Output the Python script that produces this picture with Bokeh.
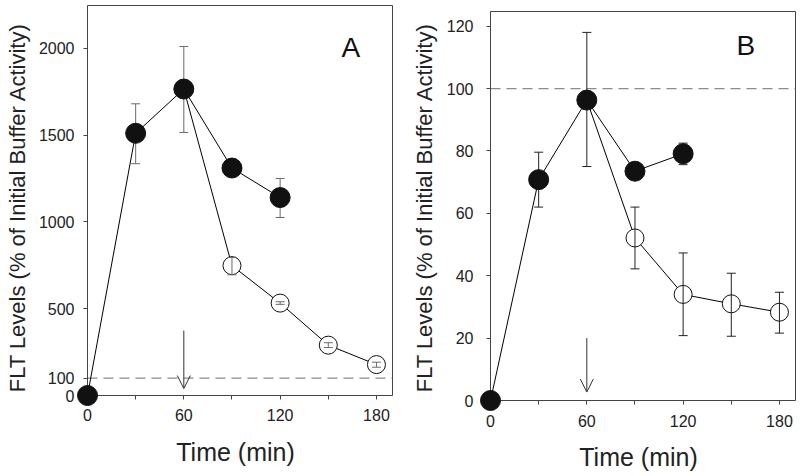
from bokeh.plotting import figure
from bokeh.models import Range1d, FixedTicker, Arrow, OpenHead, Label, LinearAxis
from bokeh.layouts import row
from bokeh.embed import file_html
from bokeh.resources import INLINE

FONT = "Liberation Sans"

# ---------------- data ----------------
time_ticks = [0, 60, 120, 180]
time_minor = [30, 90, 150]

fill_time = [0, 30, 60, 90, 120]
open_time = [90, 120, 150, 180]

# Panel A
a_fill = [0, 1510, 1765, 1310, 1140]
a_fill_lo = [0, 1335, 1515, 1265, 1025]
a_fill_hi = [0, 1680, 2010, 1355, 1250]
a_open = [748, 532, 290, 178]
a_open_lo = [695, 525, 276, 163]
a_open_hi = [795, 540, 304, 192]
a_yticks = [0, 100, 500, 1000, 1500, 2000]
a_baseline = 100
a_arrow = (60, 374, 40)
a_xmax, a_ymax = 190, 2246

# Panel B
b_fill = [0, 70.8, 96.3, 73.5, 79.1]
b_fill_lo = [0, 62.0, 75.0, 72.5, 75.6]
b_fill_hi = [0, 79.6, 118.0, 74.5, 82.5]
b_open = [52.1, 34.0, 31.0, 28.3]
b_open_lo = [42.2, 20.8, 20.6, 21.6]
b_open_hi = [62.0, 47.3, 40.8, 34.7]
b_yticks = [0, 20, 40, 60, 80, 100, 120]
b_baseline = 100
b_arrow = (60, 20, 2.7)
b_xmax, b_ymax = 190, 124.7

xlabel = "Time (min)"
ylabel = "FLT Levels (% of Initial Buffer Activity)"

AXIS_COLOR = "#444444"
TICK = 4


def line_axis(loc, bounds, ticks, minor):
    ax = LinearAxis(fixed_location=loc, bounds=bounds,
                    ticker=FixedTicker(ticks=ticks, minor_ticks=minor),
                    major_label_overrides={t: "" for t in ticks})
    ax.axis_line_color = AXIS_COLOR
    ax.major_tick_line_color = AXIS_COLOR
    ax.minor_tick_line_color = AXIS_COLOR
    ax.major_tick_in = 0
    ax.major_tick_out = TICK if ticks else 0
    ax.minor_tick_in = 0
    ax.minor_tick_out = TICK if minor else 0
    ax.major_label_text_font_size = "1px"
    ax.major_label_text_color = None
    return ax


def label_axis(ticks, title, title_size, standoff, title_standoff):
    ax = LinearAxis(ticker=FixedTicker(ticks=ticks, minor_ticks=[]), axis_label=title)
    ax.axis_line_color = None
    ax.major_tick_line_color = None
    ax.minor_tick_line_color = None
    ax.major_tick_in = 0
    ax.major_tick_out = 0
    ax.minor_tick_in = 0
    ax.minor_tick_out = 0
    ax.major_label_text_font = FONT
    ax.major_label_text_font_size = "16px"
    ax.major_label_text_color = "#222222"
    ax.axis_label_text_font = FONT
    ax.axis_label_text_font_style = "normal"
    ax.axis_label_text_color = "#222222"
    ax.axis_label_text_font_size = title_size
    ax.major_label_standoff = standoff
    ax.axis_label_standoff = title_standoff
    return ax


def panel(fill, flo, fhi, opn, olo, ohi, yticks, xmax, ymax, baseline, arrow,
          letter, letter_pos, frame, pads, tick_standoff, label_standoff, err_color):
    # frame = (left, right, top, bottom) of the visible axes box in canvas px
    # pads  = extra frame px kept (left, right, top, bottom) of that box
    W, H = 400, 476
    fl, fr, ft, fb = frame
    pl, pr, pt, pb_ = pads
    xs = (fr - fl) / xmax
    ys = (fb - ft) / ymax
    p = figure(width=W, height=H, output_backend="svg", toolbar_location=None,
               x_range=Range1d(-pl / xs, xmax + pr / xs),
               y_range=Range1d(-pb_ / ys, ymax + pt / ys),
               min_border_left=fl - pl, min_border_right=W - fr - pr,
               min_border_top=ft - pt, min_border_bottom=H - fb - pb_,
               x_axis_location=None, y_axis_location=None)
    p.grid.visible = False
    p.outline_line_color = None
    p.background_fill_color = "white"
    p.border_fill_color = "white"

    # box lines and ticks, placed exactly on the data origin / range ends
    p.add_layout(line_axis(0, (0, xmax), time_ticks, time_minor), "below")
    p.add_layout(line_axis(0, (0, ymax), yticks, []), "left")
    p.add_layout(line_axis(ymax, (0, xmax), [], []), "below")
    p.add_layout(line_axis(xmax, (0, ymax), [], []), "left")

    # tick labels and titles in the side panels
    p.add_layout(label_axis(time_ticks, xlabel, "25px",
                            TICK + tick_standoff[0] - pb_, label_standoff[0]), "below")
    p.add_layout(label_axis(yticks, ylabel, "22px",
                            TICK + tick_standoff[1] - pl, label_standoff[1]), "left")

    # dashed reference level
    p.segment(x0=[0], y0=[baseline], x1=[xmax], y1=[baseline], line_color="#8c8c8c",
              line_dash="10 6", line_width=1.2)

    # connecting lines
    p.line(fill_time, fill, line_color="black", line_width=1)
    p.line([fill_time[2]] + open_time, [fill[2]] + opn, line_color="black", line_width=1)

    # open markers
    p.scatter(open_time, opn, size=18, marker="circle", fill_color="white",
              line_color="#111111", line_width=1)
    # error bars
    ex = fill_time[1:] + open_time
    elo = flo[1:] + olo
    ehi = fhi[1:] + ohi
    p.segment(ex, elo, ex, ehi, line_color=err_color, line_width=1)
    p.scatter(ex, elo, marker="dash", size=9, line_color=err_color, line_width=1)
    p.scatter(ex, ehi, marker="dash", size=9, line_color=err_color, line_width=1)
    # filled markers (drawn above the axis lines)
    p.scatter(fill_time, fill, size=20, marker="circle", fill_color="#111111",
              line_color="#111111", level="overlay")

    p.add_layout(Arrow(end=OpenHead(size=13, line_width=1, line_color="#333333"),
                       x_start=arrow[0], y_start=arrow[1], x_end=arrow[0], y_end=arrow[2],
                       line_color="#333333", line_width=1))
    p.add_layout(Label(x=letter_pos[0], y=letter_pos[1], text=letter,
                       text_font=FONT, text_font_size="28px", text_color="#111111",
                       text_align="center", text_baseline="middle"))
    return p


pa = panel(a_fill, a_fill_lo, a_fill_hi, a_open, a_open_lo, a_open_hi, a_yticks,
           a_xmax, a_ymax, a_baseline, a_arrow, "A", (164, 2004),
           (87, 392, 5, 395), (11, 2, 2, 16), (9, 9), (14, 6), "#6a6a6a")
pb = panel(b_fill, b_fill_lo, b_fill_hi, b_open, b_open_lo, b_open_hi, b_yticks,
           b_xmax, b_ymax, b_baseline, b_arrow, "B", (159, 113.8),
           (90, 395, 11, 400), (11, 2, 8, 11), (10, 13), (13, 7), "#222222")

layout = row(pa, pb)
open("out.html", "w").write(file_html(layout, INLINE))
